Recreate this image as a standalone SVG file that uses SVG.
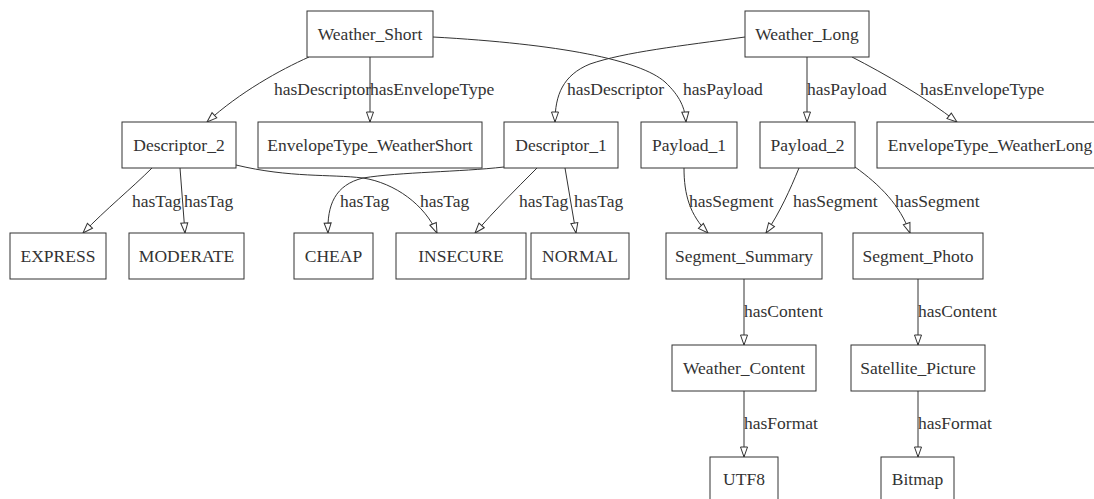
<svg xmlns="http://www.w3.org/2000/svg" width="1094" height="499" viewBox="0 0 1094 499">
<style>
  .node rect { fill: #ffffff; stroke: #333333; stroke-width: 1; }
  .node text { font-family: "Liberation Serif", "Times New Roman", serif; font-size: 17.5px; fill: #333333; text-anchor: middle; }
  .edge path { fill: none; stroke: #333333; stroke-width: 1; marker-end: url(#arr); }
  .lbl { font-family: "Liberation Serif", "Times New Roman", serif; font-size: 17.5px; fill: #333333; }
</style>
<defs>
  <marker id="arr" markerWidth="12" markerHeight="10" refX="10" refY="4" orient="auto" markerUnits="userSpaceOnUse" overflow="visible">
    <path d="M0,0.5 L10,4 L0,7.5 Z" fill="#ffffff" stroke="#333333" stroke-width="1"/>
  </marker>
</defs>
<rect x="0" y="0" width="1094" height="499" fill="#ffffff"/>
<g id="connectors">
  <g class="edge"><path d="M309,57 C 280,70 240,92 207,122"/></g>
  <g class="edge"><path d="M370,57 L370,122"/></g>
  <g class="edge"><path d="M433,37 C 560,44 640,60 665,82 C 680,96 685,108 686,122"/></g>
  <g class="edge"><path d="M745,37 C 680,46 625,52 590,64 C 563,75 555,95 555,122"/></g>
  <g class="edge"><path d="M807,57 L807,122"/></g>
  <g class="edge"><path d="M852,57 C 885,74 925,97 957,122"/></g>
  <g class="edge"><path d="M152,168 C 132,188 105,210 83,233"/></g>
  <g class="edge"><path d="M180,168 L185,233"/></g>
  <g class="edge"><path d="M236,165 C 290,178 330,174 363,178 C 395,183 425,205 437,233"/></g>
  <g class="edge"><path d="M504,167 C 460,172 400,172 363,178 C 335,185 327,205 328,233"/></g>
  <g class="edge"><path d="M537,168 C 515,190 495,210 475,233"/></g>
  <g class="edge"><path d="M565,168 L576,233"/></g>
  <g class="edge"><path d="M684,168 C 684,195 690,215 708,233"/></g>
  <g class="edge"><path d="M799,168 C 790,190 780,212 766,233"/></g>
  <g class="edge"><path d="M855,167 C 880,185 900,205 910,233"/></g>
  <g class="edge"><path d="M744,279 L744,345"/></g>
  <g class="edge"><path d="M918,279 L918,345"/></g>
  <g class="edge"><path d="M744,391 L744,457"/></g>
  <g class="edge"><path d="M918,391 L918,457"/></g>
  <text class="lbl" x="274" y="95">hasDescriptor</text>
  <text class="lbl" x="370" y="95">hasEnvelopeType</text>
  <text class="lbl" x="683" y="95">hasPayload</text>
  <text class="lbl" x="567" y="95">hasDescriptor</text>
  <text class="lbl" x="807" y="95">hasPayload</text>
  <text class="lbl" x="920" y="95">hasEnvelopeType</text>
  <text class="lbl" x="132" y="207">hasTag</text>
  <text class="lbl" x="184" y="207">hasTag</text>
  <text class="lbl" x="420" y="207">hasTag</text>
  <text class="lbl" x="340" y="207">hasTag</text>
  <text class="lbl" x="519" y="207">hasTag</text>
  <text class="lbl" x="574" y="207">hasTag</text>
  <text class="lbl" x="689" y="207">hasSegment</text>
  <text class="lbl" x="793" y="207">hasSegment</text>
  <text class="lbl" x="895" y="207">hasSegment</text>
  <text class="lbl" x="744" y="317">hasContent</text>
  <text class="lbl" x="918" y="317">hasContent</text>
  <text class="lbl" x="744" y="429">hasFormat</text>
  <text class="lbl" x="918" y="429">hasFormat</text>
</g>
<g id="Weather_Short" class="node"><rect x="307" y="11" width="126" height="46"/><text x="370" y="40">Weather_Short</text></g>
<g id="Weather_Long" class="node"><rect x="745" y="11" width="124" height="46"/><text x="807" y="40">Weather_Long</text></g>
<g id="Descriptor_2" class="node"><rect x="122" y="122" width="114" height="46"/><text x="179" y="151">Descriptor_2</text></g>
<g id="EnvelopeType_WeatherShort" class="node"><rect x="258" y="122" width="224" height="46"/><text x="370" y="151">EnvelopeType_WeatherShort</text></g>
<g id="Descriptor_1" class="node"><rect x="504" y="122" width="114" height="46"/><text x="561" y="151">Descriptor_1</text></g>
<g id="Payload_1" class="node"><rect x="641" y="122" width="96" height="46"/><text x="689" y="151">Payload_1</text></g>
<g id="Payload_2" class="node"><rect x="760" y="122" width="95" height="46"/><text x="807.5" y="151">Payload_2</text></g>
<g id="EnvelopeType_WeatherLong" class="node"><rect x="877" y="122" width="226" height="46"/><text x="990" y="151">EnvelopeType_WeatherLong</text></g>
<g id="EXPRESS" class="node"><rect x="10" y="233" width="96" height="46"/><text x="58" y="262">EXPRESS</text></g>
<g id="MODERATE" class="node"><rect x="129" y="233" width="115" height="46"/><text x="186.5" y="262">MODERATE</text></g>
<g id="CHEAP" class="node"><rect x="294" y="233" width="79" height="46"/><text x="333.5" y="262">CHEAP</text></g>
<g id="INSECURE" class="node"><rect x="396" y="233" width="130" height="46"/><text x="461" y="262">INSECURE</text></g>
<g id="NORMAL" class="node"><rect x="531" y="233" width="98" height="46"/><text x="580" y="262">NORMAL</text></g>
<g id="Segment_Summary" class="node"><rect x="666" y="233" width="156" height="46"/><text x="744" y="262">Segment_Summary</text></g>
<g id="Segment_Photo" class="node"><rect x="853" y="233" width="130" height="46"/><text x="918" y="262">Segment_Photo</text></g>
<g id="Weather_Content" class="node"><rect x="672" y="345" width="144" height="46"/><text x="744" y="374">Weather_Content</text></g>
<g id="Satellite_Picture" class="node"><rect x="851" y="345" width="134" height="46"/><text x="918" y="374">Satellite_Picture</text></g>
<g id="UTF8" class="node"><rect x="710" y="457" width="68" height="46"/><text x="744" y="485">UTF8</text></g>
<g id="Bitmap" class="node"><rect x="881" y="457" width="73" height="46"/><text x="917.5" y="485">Bitmap</text></g>
</svg>
